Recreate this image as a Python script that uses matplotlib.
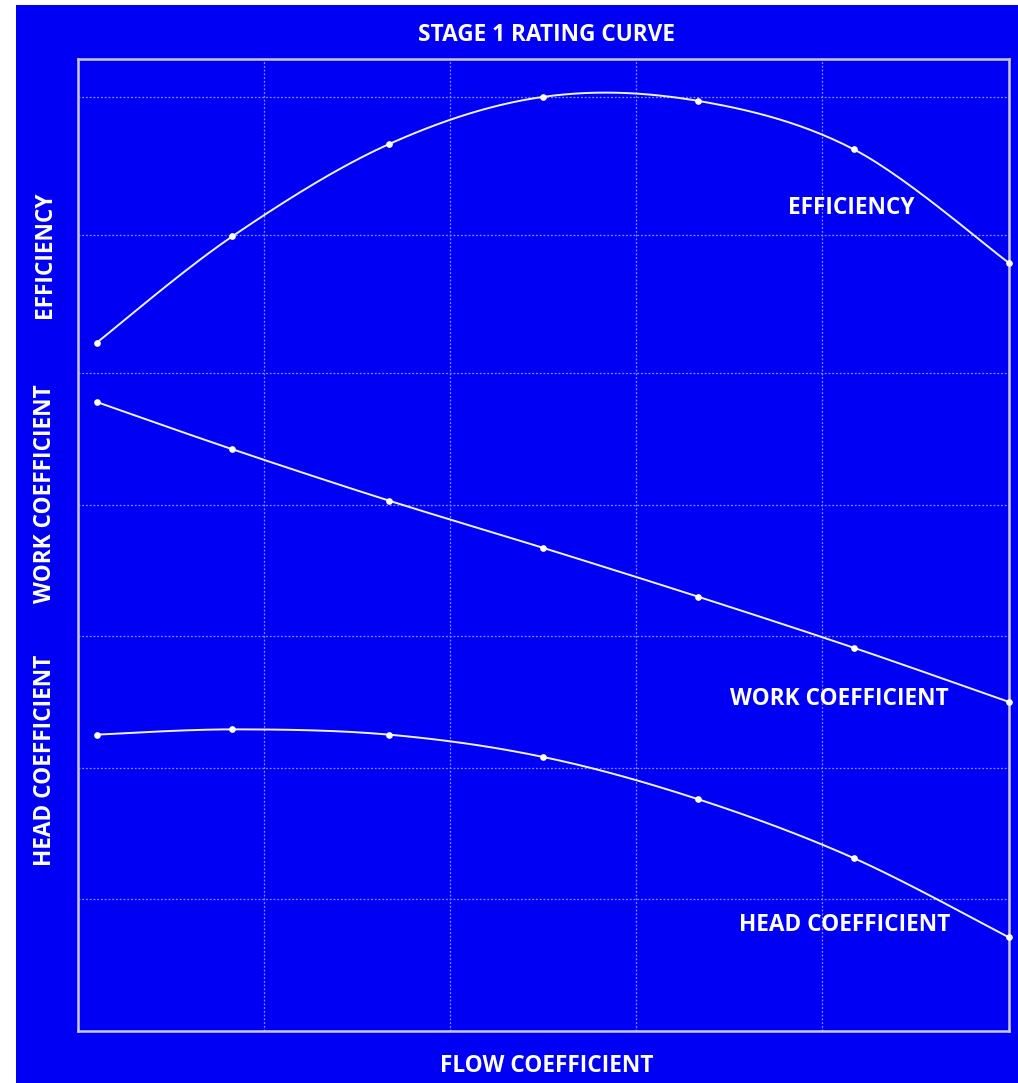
import numpy as np
import matplotlib
matplotlib.use("Agg")
import matplotlib.pyplot as plt
from matplotlib.patches import Rectangle

# ---- data ----
flow = [0.10, 0.83, 1.67, 2.50, 3.33, 4.17, 5.00]
efficiency = [5.23, 6.04, 6.74, 7.10, 7.07, 6.70, 5.84]
work_coef = [4.78, 4.42, 4.03, 3.67, 3.30, 2.91, 2.50]
head_coef = [2.25, 2.29, 2.25, 2.08, 1.76, 1.31, 0.71]
x_grid = [1, 2, 3, 4]
y_grid = [1, 2, 3, 4, 5, 6.05, 7.10]

BLUE = "#0000F5"
FRAME = "#C8C8FF"
GRID = "#8C8CFF"
FONT = ["Open Sans", "DejaVu Sans"]


def smooth(xs, ys, n=30):
    """Excel-style smoothed line (Bezier/Catmull-Rom) through the given points."""
    P = np.column_stack([xs, ys]).astype(float)
    P = np.vstack([P[0], P, P[-1]])
    out = []
    t = np.linspace(0, 1, n)[:, None]
    for i in range(1, len(P) - 2):
        p0, p1, p2, p3 = P[i - 1], P[i], P[i + 1], P[i + 2]
        c1 = p1 + (p2 - p0) / 6
        c2 = p2 - (p3 - p1) / 6
        seg = ((1 - t) ** 3) * p1 + 3 * ((1 - t) ** 2) * t * c1 + 3 * (1 - t) * t ** 2 * c2 + t ** 3 * p2
        out.append(seg if i == 1 else seg[1:])
    seg = np.vstack(out)
    return seg[:, 0], seg[:, 1]


fig = plt.figure(figsize=(10.18, 10.83), dpi=100, facecolor="white")
bg = Rectangle((16 / 1018, 0), 1 - 16 / 1018, 1 - 5 / 1083,
               transform=fig.transFigure, facecolor=BLUE,
               edgecolor="none", zorder=-10)
fig.add_artist(bg)

ax = fig.add_axes([78 / 1018, 52.5 / 1083, 930.5 / 1018, 971.5 / 1083])
ax.set_zorder(1)
ax.set_facecolor(BLUE)
ax.set_xlim(0, 5)
ax.set_ylim(0, 7.388)
ax.set_xticks(x_grid)
ax.set_yticks(y_grid)
ax.tick_params(length=0, labelbottom=False, labelleft=False)
ax.grid(True, color=GRID, linestyle=(0, (1.5, 1.5)), linewidth=0.9)
ax.set_axisbelow(True)
for s in ax.spines.values():
    s.set_color(FRAME)
    s.set_linewidth(1.8)

for ys in (efficiency, work_coef, head_coef):
    sx, sy = smooth(flow, ys)
    ax.plot(sx, sy, color="#F0F0FF", linewidth=1.4, zorder=3, clip_on=False)
    ax.plot(flow, ys, linestyle="none", marker="o", markersize=3.8,
            color="white", zorder=4, clip_on=False)

tk = dict(color="white", fontweight="bold", family=FONT, fontsize=16.3)

fig.text(547 / 1018, 1 - 35 / 1083, "STAGE 1 RATING CURVE", ha="center", va="center", **tk)
fig.text(547 / 1018, 1 - 1066 / 1083, "FLOW COEFFICIENT", ha="center", va="center", **tk)
fig.text(45 / 1018, 1 - 255 / 1083, "EFFICIENCY", ha="center", va="center", rotation=90, **tk)
fig.text(45 / 1018, 1 - 494 / 1083, "WORK COEFFICIENT", ha="center", va="center", rotation=90, **tk)
fig.text(45 / 1018, 1 - 760 / 1083, "HEAD COEFFICIENT", ha="center", va="center", rotation=90, **tk)

fig.text(851 / 1018, 1 - 208 / 1083, "EFFICIENCY", ha="center", va="center", **tk)
fig.text(839 / 1018, 1 - 699 / 1083, "WORK COEFFICIENT", ha="center", va="center", **tk)
fig.text(845 / 1018, 1 - 925 / 1083, "HEAD COEFFICIENT", ha="center", va="center", **tk)

fig.savefig("out.png", dpi=100, facecolor="white")
